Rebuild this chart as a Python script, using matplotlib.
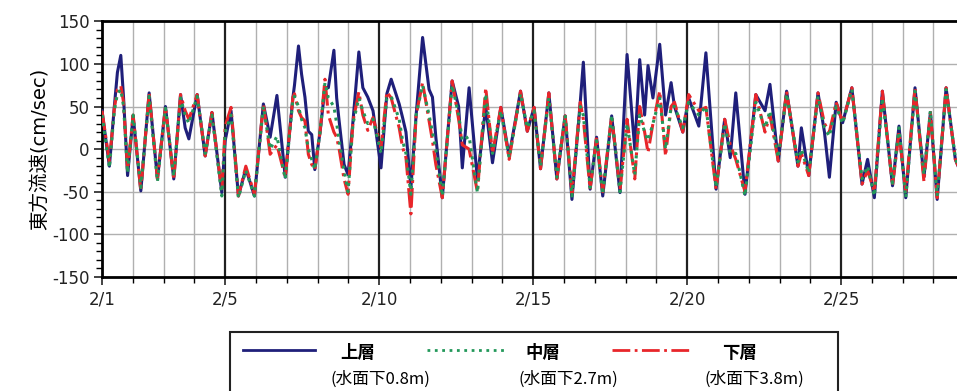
import numpy as np
import matplotlib.pyplot as plt
from matplotlib.lines import Line2D
from matplotlib.patches import Rectangle
from matplotlib.ticker import MultipleLocator, FixedLocator

plt.rcParams['font.family'] = ['DejaVu Sans', 'Noto Sans CJK JP']
plt.rcParams['axes.unicode_minus'] = False

# days elapsed since 2/1 00:00 at the turning points
day = [0.00, 0.24, 0.40, 0.50, 0.61, 0.70, 0.83, 1.01, 1.26, 1.53,
       1.80, 2.06, 2.33, 2.55, 2.70, 2.82, 3.09, 3.35, 3.57, 3.89,
       4.00, 4.19, 4.43, 4.67, 4.95, 5.24, 5.46, 5.68, 5.95, 6.20,
       6.25, 6.38, 6.48, 6.59, 6.70, 6.81, 6.91, 7.08, 7.24, 7.35,
       7.53, 7.62, 7.70, 7.86, 7.99, 8.15, 8.34, 8.47, 8.63, 8.80,
       9.06, 9.25, 9.39, 9.65, 9.76, 9.87, 10.03, 10.20, 10.41, 10.62,
       10.73, 10.84, 11.05, 11.37, 11.58, 11.70, 11.92, 12.19, 12.46, 12.68,
       12.95, 13.22, 13.59, 13.81, 14.03, 14.24, 14.51, 14.77, 15.04, 15.26,
       15.53, 15.63, 15.85, 16.06, 16.26, 16.55, 16.82, 17.05, 17.30, 17.46,
       17.62, 17.73, 17.89, 18.11, 18.30, 18.48, 18.59, 18.86, 19.05, 19.38,
       19.61, 19.94, 20.22, 20.40, 20.58, 20.88, 21.23, 21.53, 21.69, 21.96,
       22.23, 22.60, 22.71, 22.95, 23.25, 23.46, 23.62, 23.84, 24.05, 24.35,
       24.68, 24.86, 25.08, 25.34, 25.67, 25.88, 26.10, 26.40, 26.69, 26.90,
       27.12, 27.41, 27.71, 27.80]

# 上層 (0.8m)
upper = [45, -20, 50, 90, 110, 60, -31, 39, -49, 66,
         -35, 50, -35, 64, 25, 12, 64, -8, 43, -51,
         10, 45, -55, -23, -55, 53, 14, 63, -33, 61,
         75, 121, 88, 61, 21, 17, -24, 20, 72, 72,
         116, 60, 33, -18, -30, 33, 114, 72, 61, 45,
         -22, 65, 82, 53, 37, 20, -45, 40, 131, 70,
         61, 14, -57, 80, 50, -22, 72, -35, 50, -16,
         49, -8, 68, 21, 49, -23, 66, -35, 39, -59,
         55, 102, -47, 14, -55, 39, -51, 111, 0, 105,
         40, 98, 60, 123, 40, 78, 50, 20, 60, 27,
         113, -47, 35, -10, 66, -53, 64, 45, 76, -14,
         68, -20, 25, -31, 66, 20, -33, 55, 31, 72,
         -41, -12, -57, 68, -43, 27, -57, 72, -33, 43,
         -59, 72, -12, -20]

# 中層 (2.7m)
middle = [40, -22, 45, 65, 70, 50, -28, 40, -45, 62,
          -38, 48, -32, 60, 40, 30, 62, -5, 40, -55,
          20, 40, -57, -25, -55, 50, 0, 15, -35, 58,
          62, 50, 35, 25, 0, -12, -24, 20, 78, 60,
          50, 30, 10, -25, -50, 30, 60, 45, 30, 35,
          -5, 60, 62, 35, 10, -5, -53, 40, 75, 40,
          20, 0, -55, 75, 40, 10, 15, -51, 65, -5,
          45, -10, 65, 25, 45, -20, 60, -33, 40, -55,
          50, 40, -45, 10, -53, 40, -50, 30, -30, 40,
          20, 10, 30, 60, 0, 50, 50, 25, 55, 40,
          50, -45, 30, -5, -5, -55, 55, 25, 45, -10,
          65, -15, 0, -28, 62, 25, 15, 50, 30, 70,
          -35, -20, -55, 60, -40, 25, -57, 68, -30, 45,
          -55, 70, -10, -20]

# 下層 (3.8m)
lower = [45, -15, 48, 70, 74, 55, -25, 40, -49, 66,
         -35, 50, -36, 64, 45, 35, 64, -8, 43, -50,
         27, 49, -55, -20, -53, 53, -6, 5, -33, 61,
         65, 45, 37, 33, -6, -18, -24, 20, 82, 40,
         20, 14, 0, -35, -53, 33, 67, 40, 22, 37,
         2, 67, 60, 25, 2, -10, -76, 40, 78, 33,
         10, -18, -57, 80, 35, 5, 0, -50, 72, -5,
         49, -12, 68, 21, 49, -23, 66, -35, 39, -52,
         55, 35, -47, 14, -50, 39, -48, 35, -35, 50,
         20, -4, 30, 68, -8, 50, 55, 20, 64, 45,
         49, -47, 35, 5, -12, -50, 64, 20, 40, -14,
         68, -20, -5, -31, 66, 30, 20, 55, 31, 72,
         -41, -25, -50, 68, -43, 20, -50, 72, -38, 43,
         -57, 72, -12, -20]

tick_days = [0, 4, 9, 14, 19, 24]
tick_labels = ['2/1', '2/5', '2/10', '2/15', '2/20', '2/25']

fig = plt.figure(figsize=(9.57, 3.91), dpi=100)
ax = fig.add_axes([0.1066, 0.2916, 0.901, 0.654])

c_up, c_mid, c_low = '#1f1f7a', '#23985a', '#e8262a'
ax.plot(day, upper, color=c_up, lw=2.2, zorder=3)
ax.plot(day, lower, color=c_low, lw=2.2, ls='-.', zorder=4)
ax.plot(day, middle, color=c_mid, lw=2.2, ls=':', zorder=5)

ax.set_xlim(0, 28)
ax.set_ylim(-150, 150)
ax.xaxis.set_major_locator(FixedLocator(tick_days))
ax.set_xticklabels(tick_labels)
ax.xaxis.set_minor_locator(MultipleLocator(1))
ax.yaxis.set_major_locator(MultipleLocator(50))
ax.yaxis.set_minor_locator(MultipleLocator(10))

# light grid: each day and every 50
for d in range(1, 28):
    if d not in tick_days:
        ax.axvline(d, color='#b0b0b0', lw=1, zorder=1)
for v in range(-100, 150, 50):
    ax.axhline(v, color='#b0b0b0', lw=1, zorder=1)
for d in tick_days[1:]:
    ax.axvline(d, color='#202020', lw=1.6, zorder=2)

for s in ax.spines.values():
    s.set_linewidth(2)
ax.tick_params(axis='both', which='major', direction='out', length=6, width=1.2, labelsize=12,
               colors='#222222')
ax.tick_params(axis='both', which='minor', direction='out', length=4, width=1)
ax.tick_params(axis='x', pad=4)
ax.tick_params(axis='y', pad=3)
ax.set_ylabel('東方流速(cm/sec)', fontsize=14, labelpad=2)

# legend box drawn in figure pixels
W, H = 957, 391
def fx(px):
    return px / W
def fy(py):
    return 1 - py / H

fig.add_artist(Rectangle((fx(230), fy(400)), fx(838) - fx(230), fy(332) - fy(400),
                         transform=fig.transFigure, fill=False, ec='#222222', lw=1.5))
entries = [(c_up, '-', 243, 315, '上層', 340, '(水面下0.8m)', 330),
           (c_mid, ':', 427, 505, '中層', 525, '(水面下2.7m)', 518),
           (c_low, '-.', 612, 690, '下層', 722, '(水面下3.8m)', 705)]
cjk = ['Noto Sans CJK JP', 'DejaVu Sans']
for col, ls, x0, x1, top, tx, sub, sx in entries:
    fig.add_artist(Line2D([fx(x0), fx(x1)], [fy(350), fy(350)], transform=fig.transFigure,
                          color=col, ls=ls, lw=2))
    fig.text(fx(tx), fy(353), top, fontsize=12.5, fontweight='bold', va='center', ha='left',
             family=cjk)
    fig.text(fx(sx), fy(379), sub, fontsize=12, va='center', ha='left', family=cjk)

fig.savefig('out.png', dpi=100)
